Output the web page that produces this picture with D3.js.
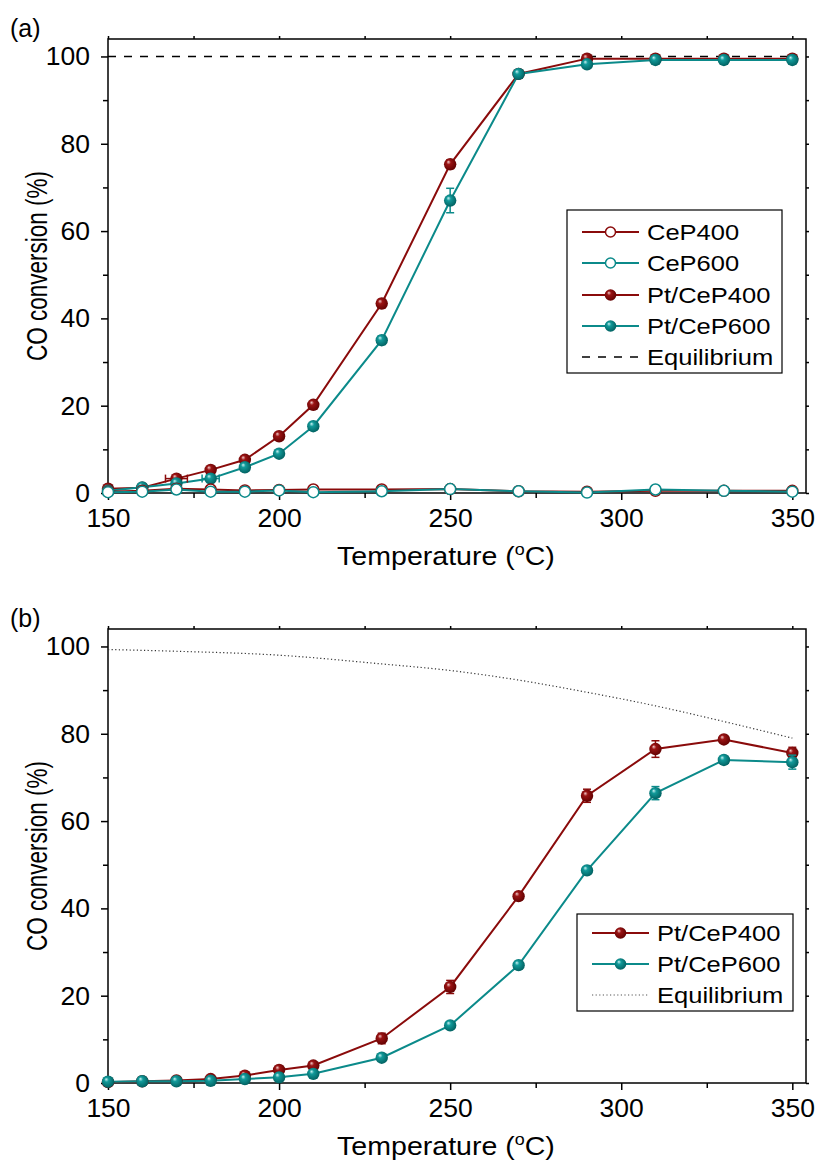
<!DOCTYPE html>
<html>
<head>
<meta charset="utf-8">
<script src="https://cdn.jsdelivr.net/npm/d3@7"></script>
<style>
body { margin: 0; background: #fff; }
text { font-family: "Liberation Sans", Arial, sans-serif; fill: #000; }
</style>
</head>
<body>
<svg id="chart" width="815" height="1160"></svg>
<script>
'use strict';

/* Data */

var temps = [150, 160, 170, 180, 190, 200, 210, 230, 250, 270, 290, 310, 330, 350];

// panel (a)
var aCeP400 = [0.3, 0.5, 1.0, 0.8, 0.6, 0.7, 0.8, 0.8, 0.9, 0.4, 0.3, 0.5, 0.5, 0.5];
var aCeP600 = [0.2, 0.3, 0.8, 0.3, 0.3, 0.6, 0.2, 0.4, 0.9, 0.4, 0.1, 0.8, 0.5, 0.3];
var aPt400 = [1.0, 1.2, 3.3, 5.3, 7.6, 13.0, 20.2, 43.4, 75.3, 96.0, 99.5, 99.5, 99.5, 99.5];
var aPt400Err = [0.2, 0.3, 0.5, 0.6, 0.6, 0.5, 0.5, 1.0, 1.0, 0.6, 0.4, 0.3, 0.3, 0.3];
var aPt400XErr = [0, 0, 3.2, 0, 0, 0, 0, 0, 0, 0, 0, 0, 0, 0];
var aPt600 = [0.5, 1.3, 2.2, 3.3, 5.9, 9.0, 15.3, 35.0, 67.0, 96.0, 98.2, 99.2, 99.2, 99.2];
var aPt600Err = [0.2, 0.3, 0.4, 0.5, 0.5, 0.5, 0.5, 1.0, 2.8, 0.6, 0.6, 0.4, 0.3, 0.3];
var aPt600XErr = [0, 0, 0, 2.5, 0, 0, 0, 0, 0, 0, 0, 0, 0, 0];
var aEquilibrium = [100, 100];
var aEquilibriumT = [150, 350];

// panel (b)
var bPt400 = [0.2, 0.4, 0.6, 0.9, 1.7, 3.0, 4.0, 10.2, 22.0, 42.8, 65.8, 76.5, 78.7, 75.6];
var bPt400Err = [0.1, 0.2, 0.2, 0.3, 0.4, 0.4, 0.4, 1.2, 1.5, 0.6, 1.5, 1.9, 0.6, 1.3];
var bPt600 = [0.3, 0.4, 0.4, 0.5, 0.9, 1.3, 2.1, 5.8, 13.2, 27.0, 48.7, 66.4, 74.0, 73.5];
var bPt600Err = [0.1, 0.1, 0.2, 0.2, 0.3, 0.3, 0.3, 0.5, 0.5, 0.8, 0.6, 1.5, 0.5, 1.6];
var bEquilibriumT = [150, 170, 200, 230, 250, 270, 290, 310, 330, 350];
var bEquilibrium = [99.3, 98.9, 98.0, 96.0, 94.5, 92.3, 89.5, 86.4, 82.8, 79.0];

var xMajor = [150, 200, 250, 300, 350];
var xMinor = [175, 225, 275, 325];
var yMajor = [0, 20, 40, 60, 80, 100];
var yMinor = [10, 30, 50, 70, 90];

var RED = '#8a0b0b';
var TEAL = '#0b8a8a';

var svg = d3.select('#chart');
var W = 698, H = 454;

// the reference type is a bit wider than Arial, stretch it sideways
var stretch = function (sel, k) {
    sel.each(function () {
        var t = d3.select(this), x = +t.attr('x') || 0;
        t.attr('transform', 'translate(' + x + ',0) scale(' + k + ',1) translate(' + (-x) + ',0)');
    });
};

// ball-like gradients for the filled markers
var defs = svg.append('defs');
function ball(id, light, mid, dark) {
    var gr = defs.append('radialGradient').attr('id', id)
        .attr('cx', '45%').attr('cy', '45%').attr('r', '60%')
        .attr('fx', '35%').attr('fy', '30%');
    gr.append('stop').attr('offset', '0%').attr('stop-color', light);
    gr.append('stop').attr('offset', '30%').attr('stop-color', mid);
    gr.append('stop').attr('offset', '100%').attr('stop-color', dark);
}
ball('ballRed', '#f2caca', '#9a1414', '#5e0000');
ball('ballTeal', '#c8f2f2', '#129a9a', '#005c5c');

function drawPanel(left, top, label, series, eq) {
    var g = svg.append('g').attr('transform', 'translate(' + left + ',' + top + ')');
    var x = d3.scaleLinear().domain([150, 354]).range([0, W]);
    var y = d3.scaleLinear().domain([0, 104]).range([H, 0]);

    // axes
    g.append('g').attr('transform', 'translate(0,' + H + ')')
        .call(d3.axisBottom(x).tickValues(xMajor).tickSize(7).tickPadding(9));
    g.append('g').attr('transform', 'translate(0,' + H + ')')
        .call(d3.axisBottom(x).tickValues(xMinor).tickSize(5).tickFormat(''));
    g.append('g').call(d3.axisTop(x).tickValues(xMajor.concat(xMinor)).tickSize(3).tickFormat(''));
    g.append('g')
        .call(d3.axisLeft(y).tickValues(yMajor).tickSize(7).tickPadding(11));
    g.append('g').call(d3.axisLeft(y).tickValues(yMinor).tickSize(5).tickFormat(''));
    g.append('g').attr('transform', 'translate(' + W + ',0)')
        .call(d3.axisRight(y).tickValues(yMajor.concat(yMinor)).tickSize(3).tickFormat(''));
    g.selectAll('.domain').remove();
    g.selectAll('.tick line').attr('stroke', '#000').attr('stroke-width', 1.5);
    g.selectAll('.tick text').style('font-size', '26px')
        .style('font-family', '"Liberation Sans", Arial, sans-serif');
    stretch(g.selectAll('.tick text'), 1.02);

    g.append('rect').attr('width', W).attr('height', H)
        .attr('fill', 'none').attr('stroke', '#000').attr('stroke-width', 1.5);

    var line = d3.line().x(function (d) { return x(d[0]); }).y(function (d) { return y(d[1]); });

    // series lines
    series.forEach(function (s) {
        g.append('path').datum(d3.zip(temps, s.values))
            .attr('d', line).attr('fill', 'none')
            .attr('stroke', s.color).attr('stroke-width', 2);
    });

    // equilibrium
    g.append('path').datum(d3.zip(eq.t, eq.values))
        .attr('d', d3.line().curve(d3.curveMonotoneX)
            .x(function (d) { return x(d[0]); }).y(function (d) { return y(d[1]); }))
        .attr('fill', 'none').attr('stroke', eq.color)
        .attr('stroke-width', eq.width).attr('stroke-dasharray', eq.dash);

    // error bars and markers
    series.forEach(function (s) {
        var pts = temps.map(function (t, i) {
            return { t: t, v: s.values[i], e: s.err ? s.err[i] : 0, xe: s.xerr ? s.xerr[i] : 0 };
        });
        var eb = g.append('g').attr('stroke', s.color).attr('stroke-width', 1.5);
        pts.forEach(function (p) {
            if (p.e > 0) {
                eb.append('line').attr('x1', x(p.t)).attr('x2', x(p.t))
                    .attr('y1', y(p.v - p.e)).attr('y2', y(p.v + p.e));
                [p.v - p.e, p.v + p.e].forEach(function (v) {
                    eb.append('line').attr('x1', x(p.t) - 4).attr('x2', x(p.t) + 4)
                        .attr('y1', y(v)).attr('y2', y(v));
                });
            }
            if (p.xe > 0) {
                eb.append('line').attr('x1', x(p.t - p.xe)).attr('x2', x(p.t + p.xe))
                    .attr('y1', y(p.v)).attr('y2', y(p.v));
                [p.t - p.xe, p.t + p.xe].forEach(function (t) {
                    eb.append('line').attr('x1', x(t)).attr('x2', x(t))
                        .attr('y1', y(p.v) - 4).attr('y2', y(p.v) + 4);
                });
            }
        });
        g.append('g').selectAll('circle').data(pts).enter().append('circle')
            .attr('cx', function (d) { return x(d.t); })
            .attr('cy', function (d) { return y(d.v); })
            .attr('r', s.open ? 5.5 : 6.2)
            .attr('fill', s.open ? '#fff' : s.fill)
            .attr('stroke', s.open ? s.color : 'none')
            .attr('stroke-width', 1.5);
    });

    // labels
    svg.append('text').attr('x', 10).attr('y', top - 2)
        .style('font-size', '25px').text(label);
    svg.append('text')
        .attr('transform', 'translate(' + (left - 61) + ',' + (top + H / 2) + ') scale(1.3,1) rotate(-90)')
        .attr('text-anchor', 'middle').style('font-size', '22.5px')
        .text('CO conversion (%)');
    var xt = svg.append('text').attr('x', 446).attr('y', top + H + 72)
        .attr('text-anchor', 'middle').style('font-size', '25.5px');
    xt.append('tspan').text('Temperature (');
    xt.append('tspan').attr('dy', -10).style('font-size', '16px').text('o');
    xt.append('tspan').attr('dy', 10).text('C)');
    stretch(xt, 1.12);
}

function drawLegend(bx, by, bw, bh, rows, items) {
    var lg = svg.append('g');
    lg.append('rect').attr('x', bx).attr('y', by).attr('width', bw).attr('height', bh)
        .attr('fill', '#fff').attr('stroke', '#000').attr('stroke-width', 1.2);
    items.forEach(function (it, i) {
        var cy = rows[i];
        lg.append('line').attr('x1', bx + 15).attr('x2', bx + 72)
            .attr('y1', cy).attr('y2', cy).attr('stroke', it.color)
            .attr('stroke-width', it.width || 2).attr('stroke-dasharray', it.dash || null);
        if (it.marker) {
            lg.append('circle').attr('cx', bx + 43.5).attr('cy', cy)
                .attr('r', it.open ? 5 : 5.8)
                .attr('fill', it.open ? '#fff' : it.fill)
                .attr('stroke', it.open ? it.color : 'none').attr('stroke-width', 1.5);
        }
        var tx = lg.append('text').attr('x', bx + 80).attr('y', cy + 8)
            .style('font-size', '22px').text(it.name);
        stretch(tx, 1.16);
    });
}

drawPanel(108, 39, '(a)', [
    { values: aPt400, err: aPt400Err, xerr: aPt400XErr, color: RED, fill: 'url(#ballRed)' },
    { values: aPt600, err: aPt600Err, xerr: aPt600XErr, color: TEAL, fill: 'url(#ballTeal)' },
    { values: aCeP400, color: RED, open: true },
    { values: aCeP600, color: TEAL, open: true }
], { t: aEquilibriumT, values: aEquilibrium, color: '#000', width: 1.5, dash: '8,8' });

drawPanel(108, 629, '(b)', [
    { values: bPt400, err: bPt400Err, color: RED, fill: 'url(#ballRed)' },
    { values: bPt600, err: bPt600Err, color: TEAL, fill: 'url(#ballTeal)' }
], { t: bEquilibriumT, values: bEquilibrium, color: '#333', width: 1.2, dash: '1.2,2.4' });

drawLegend(567, 210, 215, 163, [232, 263, 295, 326, 357], [
    { name: 'CeP400', color: RED, marker: true, open: true },
    { name: 'CeP600', color: TEAL, marker: true, open: true },
    { name: 'Pt/CeP400', color: RED, marker: true, fill: 'url(#ballRed)' },
    { name: 'Pt/CeP600', color: TEAL, marker: true, fill: 'url(#ballTeal)' },
    { name: 'Equilibrium', color: '#000', width: 1.5, dash: '8,8' }
]);

drawLegend(577, 914, 216, 97, [933, 964, 995], [
    { name: 'Pt/CeP400', color: RED, marker: true, fill: 'url(#ballRed)' },
    { name: 'Pt/CeP600', color: TEAL, marker: true, fill: 'url(#ballTeal)' },
    { name: 'Equilibrium', color: '#555', width: 1.2, dash: '1.2,2.4' }
]);
</script>
</body>
</html>
